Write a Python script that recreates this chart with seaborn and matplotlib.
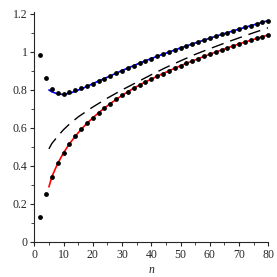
import numpy as np
import pandas as pd
import matplotlib
matplotlib.use("Agg")
import matplotlib.pyplot as plt
import seaborn as sns
from matplotlib.ticker import MultipleLocator, FuncFormatter

# dots at even n
n_dots = list(range(2, 82, 2))
upper_dots = [0.983, 0.865, 0.804, 0.784, 0.781, 0.787, 0.797, 0.808, 0.820, 0.833,
              0.847, 0.860, 0.874, 0.888, 0.902, 0.915, 0.928, 0.941, 0.953, 0.965,
              0.977, 0.988, 0.999, 1.010, 1.021, 1.031, 1.042, 1.052, 1.062, 1.072,
              1.082, 1.092, 1.101, 1.111, 1.120, 1.129, 1.138, 1.147, 1.156, 1.165]
lower_dots = [0.130, 0.252, 0.343, 0.413, 0.469, 0.516, 0.556, 0.592, 0.624, 0.653,
              0.680, 0.705, 0.728, 0.750, 0.771, 0.791, 0.809, 0.826, 0.842, 0.857,
              0.872, 0.886, 0.900, 0.914, 0.927, 0.940, 0.952, 0.964, 0.976, 0.988,
              0.999, 1.010, 1.021, 1.032, 1.042, 1.052, 1.061, 1.071, 1.080, 1.090]

# blue curve
n_blue = [5, 6, 8, 10, 12, 14, 16, 18] + list(range(20, 82, 2))
blue = [0.800, 0.790, 0.779, 0.776, 0.782, 0.793, 0.805, 0.818] + upper_dots[9:]

# red curve
n_red = [5] + list(range(6, 82, 2))
red = [0.290] + lower_dots[2:]

# dashed curve
n_dash = [5, 6, 8, 10, 12, 15, 20, 25, 30, 35, 40, 45, 50, 55, 60, 65, 70, 75, 80]
dash = [0.490, 0.518, 0.556, 0.591, 0.620, 0.658, 0.710, 0.757, 0.800, 0.840,
        0.880, 0.918, 0.953, 0.987, 1.017, 1.046, 1.074, 1.101, 1.127]

sns.set_style("ticks")
plt.rcParams["font.family"] = ["Liberation Serif", "DejaVu Serif"]
plt.rcParams["font.size"] = 8.5

fig = plt.figure(figsize=(2.77, 2.77), dpi=100)
ax = fig.add_axes([0.1238, 0.1264, 0.8448, 0.8303])

sns.lineplot(x=n_blue, y=blue, color="#0000ff", lw=1.2, ax=ax)
sns.lineplot(x=n_red, y=red, color="#ff0000", lw=1.2, ax=ax)
sns.lineplot(x=n_dash, y=dash, color="black", lw=1.0, ax=ax)
ax.lines[-1].set_dashes((9, 5))

dots = pd.DataFrame({"n": n_dots * 2, "v": upper_dots + lower_dots})
sns.scatterplot(data=dots, x="n", y="v", color="black", s=12, linewidth=0,
                ax=ax, clip_on=False, zorder=5)

ax.set_xlim(0, 80)
ax.set_ylim(0, 1.21)
ax.xaxis.set_major_locator(MultipleLocator(10))
ax.xaxis.set_minor_locator(MultipleLocator(5))
ax.yaxis.set_major_locator(MultipleLocator(0.2))
ax.yaxis.set_minor_locator(MultipleLocator(0.1))
ax.yaxis.set_major_formatter(FuncFormatter(lambda v, p: f"{v:g}"))
ax.tick_params(which="major", length=3, width=0.8, pad=2, labelsize=8.5)
ax.tick_params(which="minor", length=2, width=0.6)
ax.set_xlabel("n", style="italic", fontsize=8.5, labelpad=2)
ax.set_ylabel("")
sns.despine(ax=ax)
for s in ["left", "bottom"]:
    ax.spines[s].set_linewidth(0.8)

fig.savefig("out.png", dpi=100)
